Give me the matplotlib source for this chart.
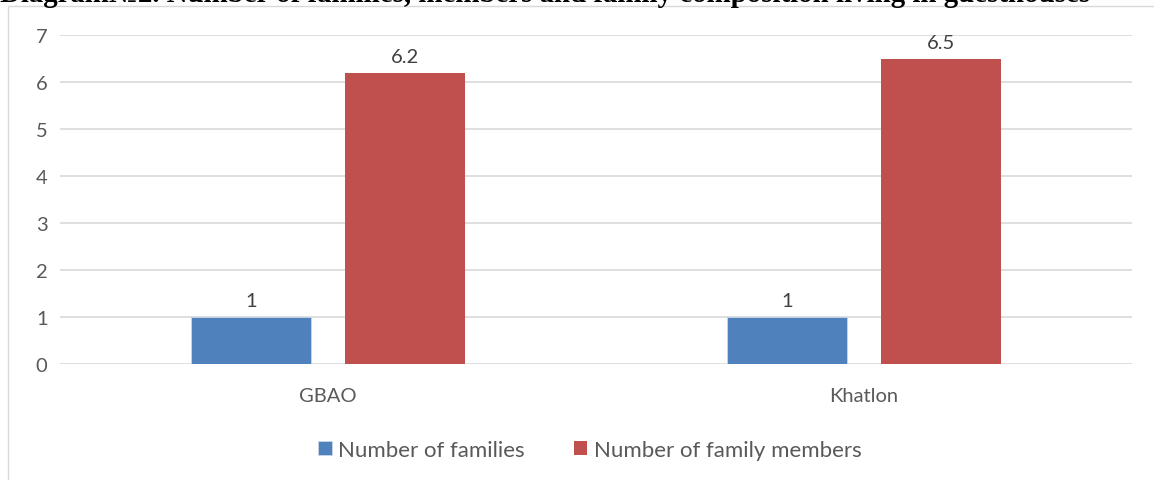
import matplotlib.pyplot as plt
import numpy as np
from matplotlib.patches import Rectangle

regions = ['GBAO', 'Khatlon']
families = [1, 1]
members = [6.2, 6.5]
series_names = ['Number of families', 'Number of family members']
title = 'Diagram№2. Number of families, members and family composition living in guesthouses'

blue = '#4F81BD'
red = '#C0504D'
text_gray = '#595959'
grid_gray = '#D9D9D9'

plt.rcParams['font.family'] = ['Lato', 'DejaVu Sans']

W, H = 1154, 481
fig = plt.figure(figsize=(W / 100, H / 100), dpi=100)

# light outer frame of the chart area
fig.patches.append(Rectangle((8 / W, -0.1), 1.2, 1 - 7 / H + 0.1, transform=fig.transFigure,
                             facecolor='white', edgecolor=grid_gray, lw=1.0, zorder=-1))

ax = fig.add_axes([60 / W, 1 - 365 / H, (1132 - 60) / W, (365 - 36) / H])
ax.set_facecolor('none')

x = np.arange(len(regions))
width = 0.224
offset = 0.143
b1 = ax.bar(x - offset, families, width, color=blue, edgecolor='#C9D7EA', lw=0.6,
            label=series_names[0], zorder=3)
b2 = ax.bar(x + offset, members, width, color=red, label=series_names[1], zorder=3)

for bars in (b1, b2):
    for rect in bars:
        ax.annotate(f'{rect.get_height():g}',
                    (rect.get_x() + rect.get_width() / 2, rect.get_height()),
                    xytext=(0, 5.5), textcoords='offset points',
                    ha='center', va='bottom', fontsize=14.5, color='#404040')

ax.set_xlim(-0.5, 1.5)
ax.set_ylim(0, 7)
ax.set_yticks(range(8))
ax.set_xticks(x)
ax.set_xticklabels(regions)
ax.tick_params(axis='both', length=0, labelsize=14.5, colors=text_gray)
ax.tick_params(axis='y', pad=9)
ax.tick_params(axis='x', pad=16.5)
ax.yaxis.grid(True, color=grid_gray, lw=1.2, zorder=0)
for s in ax.spines.values():
    s.set_visible(False)

ax.legend(loc='center', bbox_to_anchor=(590 / W, 1 - 451 / H), bbox_transform=fig.transFigure,
          ncol=2, frameon=False, fontsize=16, labelcolor=text_gray,
          handlelength=0.6, handleheight=0.6, handletextpad=0.3, columnspacing=2.2)

# heading sits above the frame, partly cut off by the image edge
fig.text(0, 1 - 2 / H, title, ha='left', va='baseline', fontsize=20.8,
         fontweight='bold', family='Liberation Serif', color='black')

fig.savefig('out.png', dpi=100)
